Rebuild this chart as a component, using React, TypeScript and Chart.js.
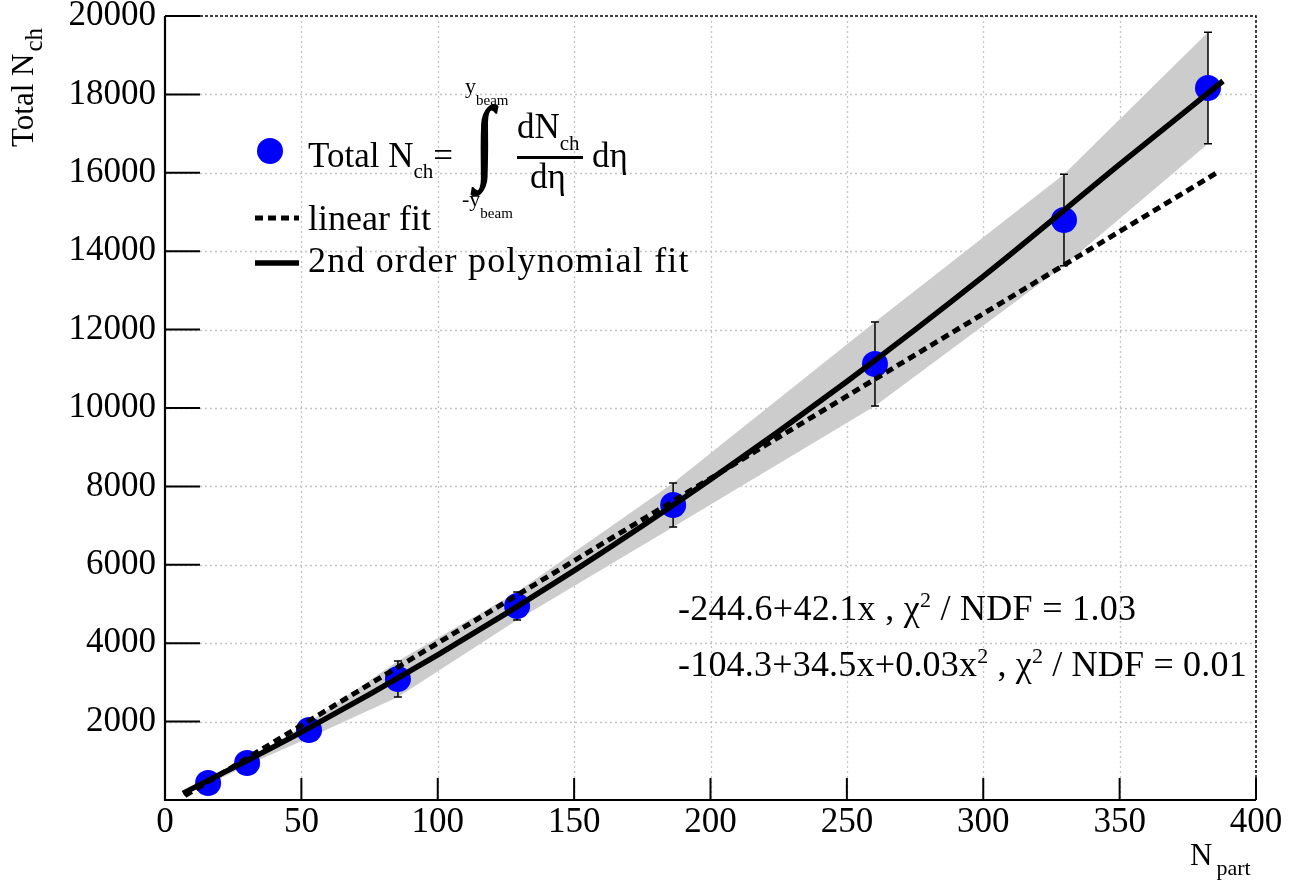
import React, { useEffect, useRef } from "react";
import { Chart, registerables } from "chart.js";

Chart.register(...registerables);

const FONT = "'Liberation Serif', 'Times New Roman', serif";

// Measured data points (N_part, total N_ch, error)
const npart = [15.8, 30.1, 52.8, 85.4, 129.1, 186.3, 260.3, 329.6, 382.4];
const nch = [434, 944, 1786, 3087, 4950, 7526, 11122, 14796, 18163];
const nchErr = [40, 60, 200, 459, 357, 560, 1070, 1170, 1420];

// Linear fit line
const linFitX = [7.3, 386.1];
const linFitY = [110, 16020];

// 2nd order polynomial fit curve
const polyFitX = [6.6, 50, 100, 150, 200, 250, 300, 350, 387.9];
const polyFitY = [170, 1733, 3704, 5851, 8176, 10677, 13356, 16212, 18342];

const xMin = 0;
const xMax = 400;
const xStep = 50;
const yMin = 0;
const yMax = 20000;
const yStep = 2000;

const framePlugin = {
  id: "rootFrame",
  beforeDatasetsDraw(chart: any) {
    const { ctx, chartArea: a, scales } = chart;
    const x = scales.x;
    const y = scales.y;
    ctx.save();
    ctx.strokeStyle = "#c4c4c4";
    ctx.lineWidth = 1.3;
    ctx.setLineDash([2, 3]);
    x.ticks.forEach((t: any) => {
      if (t.value <= xMin || t.value >= xMax) return;
      const px = Math.round(x.getPixelForValue(t.value)) + 0.5;
      ctx.beginPath();
      ctx.moveTo(px, a.top);
      ctx.lineTo(px, a.bottom);
      ctx.stroke();
    });
    y.ticks.forEach((t: any) => {
      if (t.value <= yMin || t.value >= yMax) return;
      const py = Math.round(y.getPixelForValue(t.value)) + 0.5;
      ctx.beginPath();
      ctx.moveTo(a.left, py);
      ctx.lineTo(a.right, py);
      ctx.stroke();
    });
    ctx.restore();
  },
  beforeDatasetDraw(chart: any, args: any) {
    if (args.index !== 2) return;
    const { ctx, scales } = chart;
    const x = scales.x;
    const y = scales.y;
    ctx.save();
    ctx.strokeStyle = "#000";
    ctx.lineWidth = 1.5;
    ctx.setLineDash([]);
    npart.forEach((xv, i) => {
      const px = x.getPixelForValue(xv);
      const top = y.getPixelForValue(nch[i] + nchErr[i]);
      const bot = y.getPixelForValue(nch[i] - nchErr[i]);
      ctx.beginPath();
      ctx.moveTo(px, top);
      ctx.lineTo(px, bot);
      ctx.moveTo(px - 4, top);
      ctx.lineTo(px + 4, top);
      ctx.moveTo(px - 4, bot);
      ctx.lineTo(px + 4, bot);
      ctx.stroke();
    });
    ctx.restore();
  },
  afterDatasetsDraw(chart: any) {
    const { ctx, chartArea: a, scales } = chart;
    const x = scales.x;
    const y = scales.y;
    ctx.save();
    // top / right dashed frame
    ctx.strokeStyle = "#000";
    ctx.lineWidth = 1.5;
    ctx.setLineDash([3, 2]);
    ctx.beginPath();
    ctx.moveTo(a.left, a.top);
    ctx.lineTo(a.right, a.top);
    ctx.lineTo(a.right, a.bottom);
    ctx.stroke();
    ctx.setLineDash([]);
    // axes
    ctx.lineWidth = 2.2;
    ctx.beginPath();
    ctx.moveTo(a.left, a.top);
    ctx.lineTo(a.left, a.bottom);
    ctx.lineTo(a.right, a.bottom);
    ctx.stroke();
    // ticks
    ctx.lineWidth = 2;
    x.ticks.forEach((t: any) => {
      const px = x.getPixelForValue(t.value);
      ctx.beginPath();
      ctx.moveTo(px, a.bottom);
      ctx.lineTo(px, a.bottom - 22);
      ctx.stroke();
    });
    y.ticks.forEach((t: any) => {
      const py = y.getPixelForValue(t.value);
      ctx.beginPath();
      ctx.moveTo(a.left, py);
      ctx.lineTo(a.left + 35, py);
      ctx.stroke();
    });
    // legend symbols
    ctx.fillStyle = "#0000ff";
    ctx.beginPath();
    ctx.arc(270, 151, 13, 0, Math.PI * 2);
    ctx.fill();
    ctx.strokeStyle = "#000";
    ctx.lineWidth = 5;
    ctx.setLineDash([8, 5]);
    ctx.beginPath();
    ctx.moveTo(255, 218);
    ctx.lineTo(299, 218);
    ctx.stroke();
    ctx.setLineDash([]);
    ctx.lineWidth = 5.5;
    ctx.beginPath();
    ctx.moveTo(255, 263);
    ctx.lineTo(299, 263);
    ctx.stroke();
    ctx.restore();
  },
};

const sub = (t: string, size: number, dy: number, extra: any = {}) => (
  <span style={{ fontSize: size, position: "relative", top: dy, letterSpacing: 0, ...extra }}>{t}</span>
);

const abs = (left: number, top: number, size: number, children: any, extra: any = {}) => (
  <div
    style={{
      position: "absolute",
      left,
      top,
      fontSize: size,
      lineHeight: 1,
      whiteSpace: "nowrap",
      fontFamily: FONT,
      color: "#000",
      ...extra,
    }}
  >
    {children}
  </div>
);

export default function App() {
  const canvasRef = useRef<HTMLCanvasElement | null>(null);

  useEffect(() => {
    const canvas = canvasRef.current;
    if (!canvas) return;
    const chart = new Chart(canvas, {
      type: "scatter",
      data: {
        datasets: [
          {
            label: "band upper",
            data: npart.map((xv, i) => ({ x: xv, y: nch[i] + nchErr[i] })),
            showLine: true,
            borderWidth: 0,
            borderColor: "rgba(0,0,0,0)",
            pointRadius: 0,
            fill: false,
            order: 10,
          },
          {
            label: "band lower",
            data: npart.map((xv, i) => ({ x: xv, y: nch[i] - nchErr[i] })),
            showLine: true,
            borderWidth: 0,
            borderColor: "rgba(0,0,0,0)",
            backgroundColor: "#cccccc",
            pointRadius: 0,
            fill: "-1",
            order: 9,
          },
          {
            label: "Total Nch",
            data: npart.map((xv, i) => ({ x: xv, y: nch[i] })),
            showLine: false,
            pointRadius: 13,
            pointBackgroundColor: "#0000ff",
            pointBorderWidth: 0,
            pointBorderColor: "#0000ff",
            order: 5,
          },
          {
            label: "linear fit",
            data: linFitX.map((xv, i) => ({ x: xv, y: linFitY[i] })),
            showLine: true,
            borderColor: "#000",
            borderWidth: 5,
            borderDash: [8, 5],
            pointRadius: 0,
            order: 2,
          },
          {
            label: "2nd order polynomial fit",
            data: polyFitX.map((xv, i) => ({ x: xv, y: polyFitY[i] })),
            showLine: true,
            borderColor: "#000",
            borderWidth: 5.5,
            cubicInterpolationMode: "monotone",
            pointRadius: 0,
            order: 1,
          },
        ],
      },
      options: {
        animation: false,
        responsive: false,
        maintainAspectRatio: false,
        events: [],
        layout: { padding: { top: 16, right: 48, left: 0, bottom: 0 } },
        plugins: {
          legend: { display: false },
          tooltip: { enabled: false },
          title: { display: false },
        },
        scales: {
          x: {
            type: "linear",
            min: xMin,
            max: xMax,
            grid: { display: false, drawTicks: false },
            border: { display: false },
            ticks: {
              stepSize: xStep,
              autoSkip: false,
              maxRotation: 0,
              padding: 2,
              color: "#000",
              font: { family: FONT, size: 35, lineHeight: 1.2 },
            },
            afterFit: (s: any) => {
              s.height = 82;
              s.paddingLeft = 0;
              s.paddingRight = 0;
            },
          },
          y: {
            type: "linear",
            min: yMin,
            max: yMax,
            grid: { display: false, drawTicks: false },
            border: { display: false },
            ticks: {
              stepSize: yStep,
              padding: 9,
              color: "#000",
              font: { family: FONT, size: 35 },
              callback: (v: any) => (v === 0 ? "" : String(v)),
            },
            afterFit: (s: any) => {
              s.width = 165;
              s.paddingTop = 0;
              s.paddingBottom = 0;
            },
          },
        },
      },
      plugins: [framePlugin],
    } as any);
    return () => chart.destroy();
  }, []);

  return (
    <div style={{ position: "absolute", left: 0, top: 0, width: 1304, height: 882, background: "#fff" }}>
      <canvas ref={canvasRef} width={1304} height={882} style={{ display: "block", width: 1304, height: 882 }} />
      {/* Y axis title */}
      {abs(
        7,
        147,
        31,
        <>
          Total N{sub("ch", 25, 9, { marginLeft: 2 })}
        </>,
        { transformOrigin: "0 0", transform: "rotate(-90deg)" }
      )}
      {/* X axis title */}
      {abs(1190, 839, 31, <>N{sub("part", 22, 10, { marginLeft: 4 })}</>)}
      {/* Legend */}
      {abs(308, 137.7, 35, <>Total N{sub("ch", 21, 11)}=</>)}
      {abs(475, 106, 70, "∫", {
        transform: "scaleY(1.32)",
        transformOrigin: "50% 50%",
        fontWeight: "bold",
        WebkitTextStroke: "1.4px #000",
      })}
      {abs(465, 74.6, 22, <>y{sub("beam", 15, 12)}</>)}
      {abs(462, 187.6, 22, <>-y{sub("beam", 15, 12)}</>)}
      {abs(517, 108.7, 35, <>dN{sub("ch", 21, 12)}</>)}
      <div style={{ position: "absolute", left: 517, top: 156, width: 66, height: 2.5, background: "#000" }} />
      {abs(530, 158.7, 35, "dη")}
      {abs(592, 137.7, 35, "dη")}
      {abs(308, 200.3, 36, "linear fit")}
      {abs(308, 241.9, 36, "2nd order polynomial fit", { letterSpacing: 1.2 })}
      {/* Fit results */}
      {abs(678, 589.9, 36, <>-244.6+42.1x , χ{sub("2", 22, -13)} / NDF = 1.03</>, { letterSpacing: 0.3 })}
      {abs(678, 645.9, 36, <>-104.3+34.5x+0.03x{sub("2", 22, -13)} , χ{sub("2", 22, -13)} / NDF = 0.01</>, { letterSpacing: 0.2 })}
    </div>
  );
}
